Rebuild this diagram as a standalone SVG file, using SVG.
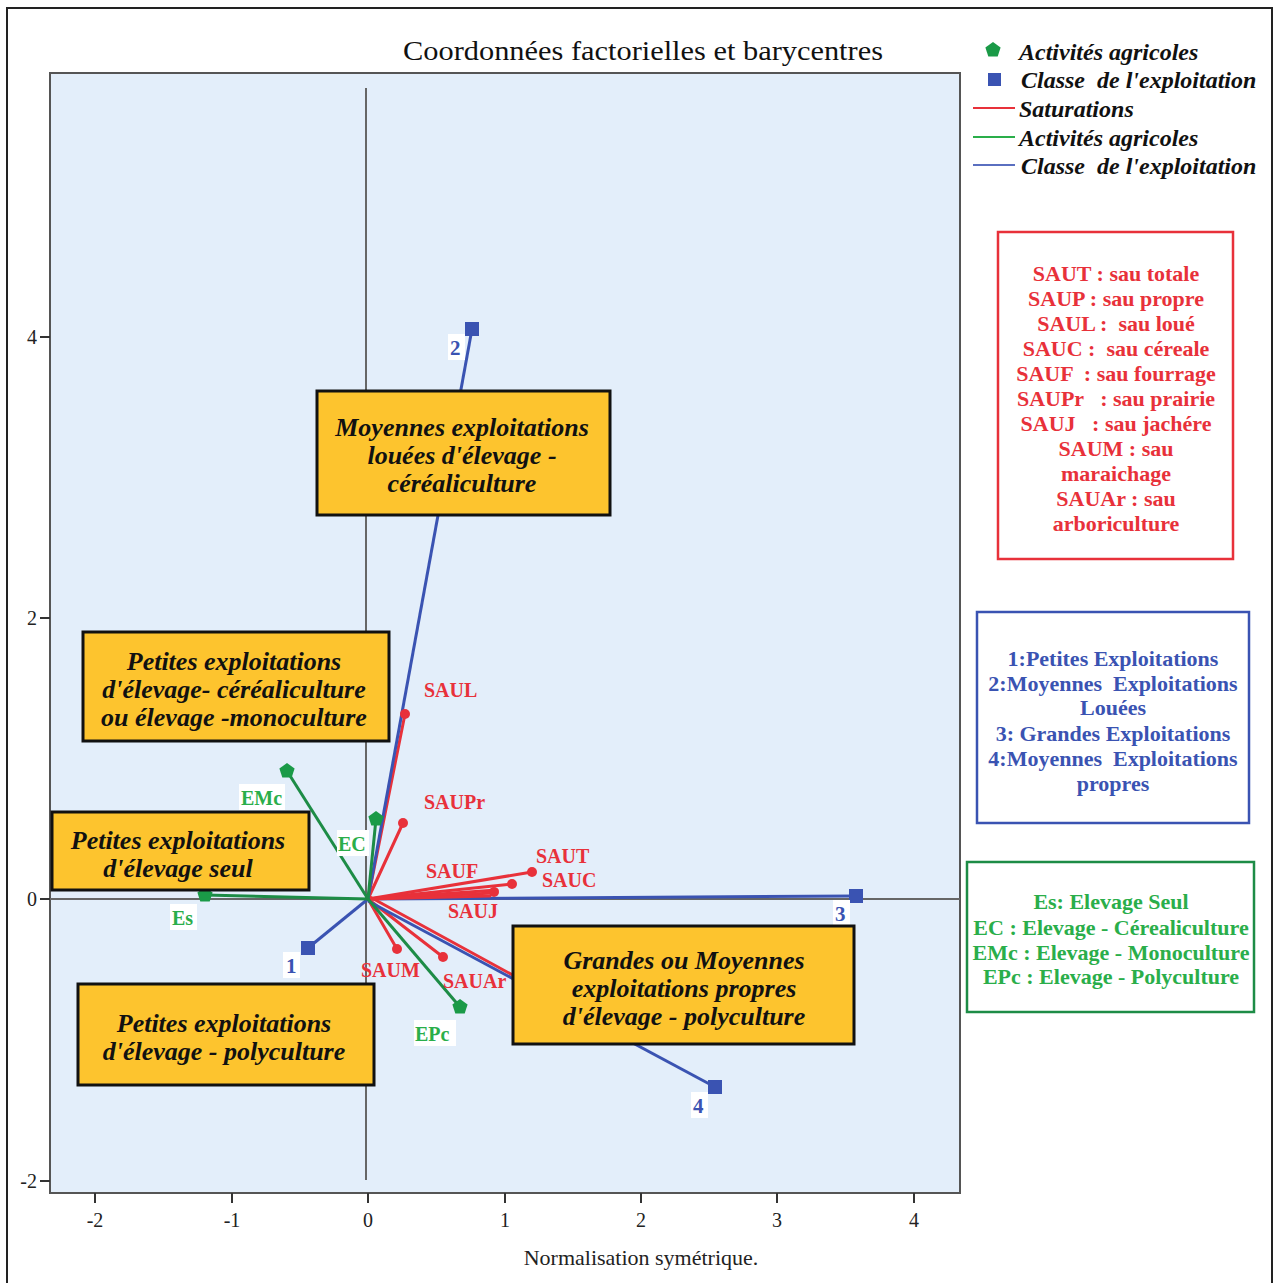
<svg xmlns="http://www.w3.org/2000/svg" width="1278" height="1283" viewBox="0 0 1278 1283">
  <style>
    text { font-family: "Liberation Serif", "DejaVu Serif", serif; }
    .title { font-size: 27px; fill: #111; }
    .tick { font-size: 20px; fill: #222; }
    .leg { font-size: 24px; font-weight: bold; font-style: italic; fill: #111; white-space: pre; }
    .box { fill: #fdc42e; stroke: #111; stroke-width: 3; }
    .boxtxt { font-size: 26px; font-weight: bold; font-style: italic; fill: #111; text-anchor: middle; }
    .red { stroke: #e8313a; stroke-width: 3; fill: none; stroke-linecap: round; }
    .grn { stroke: #1d8c46; stroke-width: 3; fill: none; }
    .blu { stroke: #3a53b2; stroke-width: 3; fill: none; }
    .rdot { fill: #e8313a; }
    .lab-r { font-size: 20px; font-weight: bold; fill: #e8313a; }
    .lab-g { font-size: 20px; font-weight: bold; fill: #2aae4a; }
    .lab-b { font-size: 21px; font-weight: bold; fill: #3a53b2; }
    .key-r { font-size: 22px; font-weight: bold; fill: #e8313a; text-anchor: middle; white-space: pre; }
    .key-b { font-size: 22px; font-weight: bold; fill: #3a53b2; text-anchor: middle; white-space: pre; }
    .key-g { font-size: 22px; font-weight: bold; fill: #2aae4a; text-anchor: middle; }
  </style>
  <defs>
    <polygon id="pent" points="0,-8 7.6,-2.5 4.7,6.5 -4.7,6.5 -7.6,-2.5" fill="#1a9a47"/>
    <rect id="sq" x="-7" y="-7" width="14" height="14" fill="#3a53b2"/>
  </defs>

  <!-- page -->
  <rect x="0" y="0" width="1278" height="1283" fill="#ffffff"/>
  <rect x="7" y="8" width="1265" height="1300" fill="none" stroke="#222" stroke-width="2"/>

  <!-- title -->
  <text class="title" x="643" y="60" text-anchor="middle" textLength="480" lengthAdjust="spacingAndGlyphs">Coordonnées factorielles et barycentres</text>

  <!-- plot area -->
  <rect x="50" y="73" width="910" height="1120" fill="#e3eefa" stroke="#555" stroke-width="2"/>

  <!-- axes ticks -->
  <g id="axes" stroke="#333" stroke-width="2">
    <line x1="40" y1="337" x2="50" y2="337"/>
    <line x1="40" y1="618" x2="50" y2="618"/>
    <line x1="40" y1="899" x2="50" y2="899"/>
    <line x1="40" y1="1181" x2="50" y2="1181"/>
    <line x1="95" y1="1193" x2="95" y2="1203"/>
    <line x1="232" y1="1193" x2="232" y2="1203"/>
    <line x1="368" y1="1193" x2="368" y2="1203"/>
    <line x1="505" y1="1193" x2="505" y2="1203"/>
    <line x1="641" y1="1193" x2="641" y2="1203"/>
    <line x1="777" y1="1193" x2="777" y2="1203"/>
    <line x1="914" y1="1193" x2="914" y2="1203"/>
  </g>
  <g id="axis-labels" class="tick">
    <text x="37" y="344" text-anchor="end">4</text>
    <text x="37" y="625" text-anchor="end">2</text>
    <text x="37" y="906" text-anchor="end">0</text>
    <text x="37" y="1188" text-anchor="end">-2</text>
    <text x="95" y="1227" text-anchor="middle">-2</text>
    <text x="232" y="1227" text-anchor="middle">-1</text>
    <text x="368" y="1227" text-anchor="middle">0</text>
    <text x="505" y="1227" text-anchor="middle">1</text>
    <text x="641" y="1227" text-anchor="middle">2</text>
    <text x="777" y="1227" text-anchor="middle">3</text>
    <text x="914" y="1227" text-anchor="middle">4</text>
    <text x="641" y="1265" text-anchor="middle" style="font-size:22px">Normalisation symétrique.</text>
  </g>

  <!-- reference lines through the origin -->
  <g id="reference-lines" stroke="#666" stroke-width="2">
    <line x1="366" y1="88" x2="366" y2="1180"/>
    <line x1="50" y1="899" x2="960" y2="899"/>
  </g>

  <!-- vectors from the origin -->
  <g id="connectors">
    <line class="blu" x1="368" y1="899" x2="856" y2="896"/>
    <line class="red" x1="368" y1="899" x2="532" y2="872"/>
    <line class="red" x1="368" y1="899" x2="512" y2="884"/>
    <line class="red" x1="368" y1="899" x2="497" y2="890"/>
    <line class="red" x1="368" y1="899" x2="493" y2="893"/>
    <line class="red" x1="368" y1="899" x2="490" y2="896"/>
    <line class="red" x1="368" y1="899" x2="405" y2="714"/>
    <line class="red" x1="368" y1="899" x2="403" y2="823"/>
    <line class="red" x1="368" y1="899" x2="397" y2="949"/>
    <line class="red" x1="368" y1="899" x2="443" y2="957"/>
    <line class="red" x1="370" y1="897" x2="540" y2="990"/>
    <line class="blu" x1="368" y1="899" x2="308" y2="948"/>
    <line class="blu" x1="368" y1="899" x2="472" y2="329"/>
    <line class="blu" x1="368" y1="901" x2="715" y2="1087"/>
    <line class="grn" x1="368" y1="899" x2="205" y2="895"/>
    <line class="grn" x1="368" y1="899" x2="287" y2="771"/>
    <line class="grn" x1="368" y1="899" x2="376" y2="819"/>
    <line class="grn" x1="368" y1="899" x2="460" y2="1007"/>
    <circle class="rdot" cx="532" cy="872" r="5"/>
    <circle class="rdot" cx="512" cy="884" r="5"/>
    <circle class="rdot" cx="494" cy="892" r="5"/>
    <circle class="rdot" cx="405" cy="714" r="5"/>
    <circle class="rdot" cx="403" cy="823" r="5"/>
    <circle class="rdot" cx="397" cy="949" r="5"/>
    <circle class="rdot" cx="443" cy="957" r="5"/>
  </g>

  <!-- saturation labels -->
  <g id="saturations" class="lab-r">
    <text x="424" y="697">SAUL</text>
    <text x="424" y="809">SAUPr</text>
    <text x="536" y="863">SAUT</text>
    <text x="542" y="887">SAUC</text>
    <text x="426" y="878">SAUF</text>
    <text x="448" y="918">SAUJ</text>
    <text x="361" y="977">SAUM</text>
    <text x="443" y="988">SAUAr</text>
  </g>

  <!-- activity points -->
  <g id="node-Es">
    <use href="#pent" x="205" y="895"/>
    <rect x="170" y="904" width="27" height="26" fill="#fff"/>
    <text class="lab-g" x="172" y="925">Es</text>
  </g>
  <g id="node-EMc">
    <use href="#pent" x="287" y="771"/>
    <rect x="239" y="784" width="46" height="26" fill="#fff"/>
    <text class="lab-g" x="241" y="805">EMc</text>
  </g>
  <g id="node-EC">
    <use href="#pent" x="376" y="819"/>
    <rect x="337" y="830" width="32" height="26" fill="#fff"/>
    <text class="lab-g" x="338" y="851">EC</text>
  </g>
  <g id="node-EPc">
    <use href="#pent" x="460" y="1007"/>
    <rect x="414" y="1020" width="42" height="26" fill="#fff"/>
    <text class="lab-g" x="415" y="1041">EPc</text>
  </g>

  <!-- class points -->
  <g id="node-1">
    <use href="#sq" x="308" y="948"/>
    <rect x="283" y="952" width="17" height="26" fill="#fff"/>
    <text class="lab-b" x="286" y="973">1</text>
  </g>
  <g id="node-2">
    <use href="#sq" x="472" y="329"/>
    <rect x="448" y="334" width="17" height="26" fill="#fff"/>
    <text class="lab-b" x="450" y="355">2</text>
  </g>
  <g id="node-3">
    <use href="#sq" x="856" y="896"/>
    <rect x="833" y="900" width="17" height="26" fill="#fff"/>
    <text class="lab-b" x="835" y="921">3</text>
  </g>
  <g id="node-4">
    <use href="#sq" x="715" y="1087"/>
    <rect x="691" y="1092" width="17" height="26" fill="#fff"/>
    <text class="lab-b" x="693" y="1113">4</text>
  </g>

  <!-- annotation boxes -->
  <g id="box-moyennes-louees">
    <rect class="box" x="317" y="391" width="293" height="124"/>
    <text class="boxtxt" x="462" y="436">Moyennes exploitations</text>
    <text class="boxtxt" x="462" y="464">louées d'élevage -</text>
    <text class="boxtxt" x="462" y="492">céréaliculture</text>
  </g>
  <g id="box-petites-cereal">
    <rect class="box" x="83" y="632" width="306" height="109"/>
    <text class="boxtxt" x="234" y="670">Petites exploitations</text>
    <text class="boxtxt" x="234" y="698">d'élevage- céréaliculture</text>
    <text class="boxtxt" x="234" y="726">ou élevage -monoculture</text>
  </g>
  <g id="box-petites-seul">
    <rect class="box" x="52" y="812" width="257" height="78"/>
    <text class="boxtxt" x="178" y="849">Petites exploitations</text>
    <text class="boxtxt" x="178" y="877">d'élevage seul</text>
  </g>
  <g id="box-petites-poly">
    <rect class="box" x="78" y="984" width="296" height="101"/>
    <text class="boxtxt" x="224" y="1032">Petites exploitations</text>
    <text class="boxtxt" x="224" y="1060">d'élevage - polyculture</text>
  </g>
  <g id="box-grandes">
    <rect class="box" x="513" y="926" width="341" height="118"/>
    <text class="boxtxt" x="684" y="969">Grandes ou Moyennes</text>
    <text class="boxtxt" x="684" y="997">exploitations propres</text>
    <text class="boxtxt" x="684" y="1025">d'élevage - polyculture</text>
  </g>

  <!-- legend -->
  <g id="legend">
    <use href="#pent" x="993" y="50"/>
    <text class="leg" x="1019" y="60">Activités agricoles</text>
    <rect x="988" y="73" width="13" height="13" fill="#3a53b2"/>
    <text class="leg" x="1021" y="88">Classe  de l'exploitation</text>
    <line x1="973" y1="108" x2="1015" y2="108" stroke="#e8313a" stroke-width="2"/>
    <text class="leg" x="1019" y="117">Saturations</text>
    <line x1="973" y1="137" x2="1015" y2="137" stroke="#2aae4a" stroke-width="2"/>
    <text class="leg" x="1019" y="146">Activités agricoles</text>
    <line x1="973" y1="165" x2="1015" y2="165" stroke="#5a6fc0" stroke-width="2"/>
    <text class="leg" x="1021" y="174">Classe  de l'exploitation</text>
  </g>

  <!-- key boxes -->
  <g id="key-saturations">
    <rect x="998" y="232" width="235" height="327" fill="#fff" stroke="#e8313a" stroke-width="2.5"/>
    <text class="key-r" x="1116" y="281">SAUT : sau totale</text>
    <text class="key-r" x="1116" y="306">SAUP : sau propre</text>
    <text class="key-r" x="1116" y="331">SAUL :  sau loué</text>
    <text class="key-r" x="1116" y="356">SAUC :  sau céreale</text>
    <text class="key-r" x="1116" y="381">SAUF  : sau fourrage</text>
    <text class="key-r" x="1116" y="406">SAUPr   : sau prairie</text>
    <text class="key-r" x="1116" y="431">SAUJ   : sau jachére</text>
    <text class="key-r" x="1116" y="456">SAUM : sau</text>
    <text class="key-r" x="1116" y="481">maraichage</text>
    <text class="key-r" x="1116" y="506">SAUAr : sau</text>
    <text class="key-r" x="1116" y="531">arboriculture</text>
  </g>
  <g id="key-classes">
    <rect x="977" y="612" width="272" height="211" fill="#fff" stroke="#3a53b2" stroke-width="2.5"/>
    <text class="key-b" x="1113" y="666">1:Petites Exploitations</text>
    <text class="key-b" x="1113" y="691">2:Moyennes  Exploitations</text>
    <text class="key-b" x="1113" y="715">Louées</text>
    <text class="key-b" x="1113" y="741">3: Grandes Exploitations</text>
    <text class="key-b" x="1113" y="766">4:Moyennes  Exploitations</text>
    <text class="key-b" x="1113" y="791">propres</text>
  </g>
  <g id="key-activites">
    <rect x="967" y="862" width="287" height="150" fill="#fff" stroke="#1d8c46" stroke-width="2.5"/>
    <text class="key-g" x="1111" y="909">Es: Elevage Seul</text>
    <text class="key-g" x="1111" y="935">EC : Elevage - Cérealiculture</text>
    <text class="key-g" x="1111" y="960">EMc : Elevage - Monoculture</text>
    <text class="key-g" x="1111" y="984">EPc : Elevage - Polyculture</text>
  </g>
</svg>
